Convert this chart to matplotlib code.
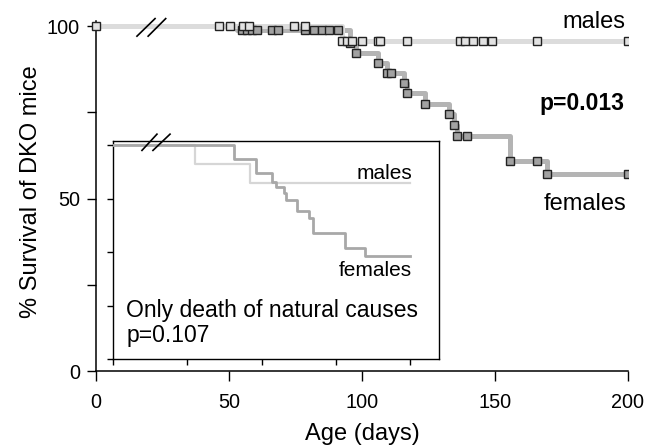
import numpy as np
import matplotlib
matplotlib.use("Agg")
import matplotlib.pyplot as plt

plt.rcParams['font.family'] = ['Liberation Sans', 'DejaVu Sans']

# ---------------- data (main panel) ----------------
male_drop_days = [92.5]
male_drop_levels = [95.7]
male_mark_days = [0, 46.2, 50.4, 55.3, 57.5, 74.4, 78.6, 92.5, 94.4, 96.2, 100,
                  106, 106.8, 116.9, 136.8, 138.7, 141.7, 145.5, 148.9, 165.8, 200]

female_drop_days = [53, 95.5, 97.7, 106, 109.4, 115.8, 116.9, 123.7, 132.7,
                    134.6, 135.7, 155.6, 169.5]
female_drop_levels = [98.9, 95.1, 92.2, 89.3, 86.4, 83.5, 80.6, 77.4, 74.5,
                      71.3, 68.1, 60.9, 57.1]
female_mark_days = [54.9, 56.8, 58.6, 60.5, 66.2, 68.4, 78.5, 82, 85, 87.6, 91,
                    95.5, 97.7, 106, 109.4, 110.9, 115.8, 116.9, 123.7, 132.7,
                    134.6, 135.7, 139.5, 155.6, 165.8, 169.5, 200]

# ---------------- data (inset) ----------------
inset_male_drop_days = [55.2, 92.3]
inset_male_drop_levels = [91.1, 82.2]
inset_female_drop_days = [81.5, 96.3, 107, 109.8, 115.2, 116.5, 123.9, 132,
                          134.7, 156.2, 169.7]
inset_female_drop_levels = [93.5, 86.9, 82.7, 80.4, 77.6, 74.3, 69.2, 65.9,
                            58.9, 51.9, 48.1]

x_ticks = [0, 50, 100, 150, 200]
y_ticks = [0, 25, 50, 75, 100]
y_tick_labels = ['0', '', '50', '', '100']
END_DAY = 200
START = 100.0


def step_curve(days, levels):
    xs = [0] + list(days) + [END_DAY]
    ys = [START] + list(levels) + [levels[-1]]
    return np.array(xs), np.array(ys)


def level_at(t, days, levels):
    lev = START
    for d, l in zip(days, levels):
        if t >= d:
            lev = l
    return lev


W, H = 646, 448
fig = plt.figure(figsize=(W / 100, H / 100), dpi=100)

# main axes: x 96..628 px, y bottom 371 px, top 21 px
ax = fig.add_axes([96 / W, (H - 371) / H, (628 - 96) / W, (371 - 21) / H])
ax.set_xlim(0, 200)
ax.set_ylim(0, 101.5)
for s in ['top', 'right']:
    ax.spines[s].set_visible(False)
for s in ['left', 'bottom']:
    ax.spines[s].set_linewidth(1.1)
ax.set_xticks(x_ticks)
ax.set_xticklabels([str(v) for v in x_ticks])
ax.set_yticks(y_ticks)
ax.set_yticklabels(y_tick_labels)
ax.tick_params(axis='x', direction='out', length=7, width=1.0, pad=9, labelsize=14.3)
ax.tick_params(axis='y', direction='out', length=6.5, width=1.0, pad=5, labelsize=14.3)

mx, my = step_curve(male_drop_days, male_drop_levels)
fx, fy = step_curve(female_drop_days, female_drop_levels)
ax.step(fx, fy, where='post', color='#b4b4b4', lw=3.6,
        solid_joinstyle='round', solid_capstyle='butt', zorder=2)
ax.step(mx, my, where='post', color='#dcdcdc', lw=3.6,
        solid_joinstyle='round', solid_capstyle='butt', zorder=2)

m_y = [level_at(t, male_drop_days, male_drop_levels) for t in male_mark_days]
f_y = [level_at(t, female_drop_days, female_drop_levels) for t in female_mark_days]
ax.plot(female_mark_days, f_y, ls='none', marker='s', ms=6, mfc='#a2a2a2',
        mec='#222222', mew=1.0, zorder=4)
ax.plot(male_mark_days[1:], m_y[1:], ls='none', marker='s', ms=6, mfc='#e2e2e2',
        mec='#222222', mew=1.0, zorder=4)
ax.plot(male_mark_days[:1], m_y[:1], ls='none', marker='s', ms=6, mfc='#e2e2e2',
        mec='#222222', mew=1.0, zorder=5, clip_on=False)

# axis break marks
for x0, x1 in [(15.4, 22.2), (19.6, 26.2)]:
    ax.plot([x0, x1], [97.1, 102.2], color='black', lw=1.2, clip_on=False, zorder=6)

ax.text(199, 99.4, 'males', ha='right', va='baseline', fontsize=17)
ax.text(199.5, 46.7, 'females', ha='right', va='baseline', fontsize=17)
ax.text(198.5, 75.7, 'p=0.013', ha='right', va='baseline', fontsize=16.5,
        fontweight='bold')

fig.text(31 / W, (H - 192) / H, '% Survival of DKO mice', rotation=90,
         ha='center', va='center', fontsize=17)
fig.text(362 / W, (H - 440) / H, 'Age (days)', ha='center', va='baseline',
         fontsize=17)

# ---------------- inset ----------------
ia = fig.add_axes([113 / W, (H - 359) / H, (439 - 113) / W, (359 - 141) / H])
ia.set_xlim(0, 219.5)
ia.set_ylim(0, 101.9)
for s in ia.spines.values():
    s.set_linewidth(1.0)
ia.set_xticks(x_ticks[:-1] + [200])
ia.set_yticks(y_ticks)
ia.set_xticklabels([])
ia.set_yticklabels([])
ia.tick_params(direction='out', length=4.5, width=1.0)

imx, imy = step_curve(inset_male_drop_days, inset_male_drop_levels)
ifx, ify = step_curve(inset_female_drop_days, inset_female_drop_levels)
ia.step(imx, imy, where='post', color='#d6d6d6', lw=1.6, zorder=2)
ia.step(ifx, ify, where='post', color='#a8a8a8', lw=2.0, zorder=3)

for x0, x1 in [(19.5, 29.6), (26.9, 38.4)]:
    ia.plot([x0, x1], [97.5, 105.1], color='black', lw=1.2, clip_on=False, zorder=6)

ia.text(201.3, 84.1, 'males', ha='right', va='baseline', fontsize=15)
ia.text(201.3, 38.8, 'females', ha='right', va='baseline', fontsize=15)
ia.text(8.8, 19.6, 'Only death of natural causes', ha='left', va='baseline',
        fontsize=16.5)
ia.text(9.4, 7.9, 'p=0.107', ha='left', va='baseline', fontsize=16.5)

fig.savefig('out.png', dpi=100)
